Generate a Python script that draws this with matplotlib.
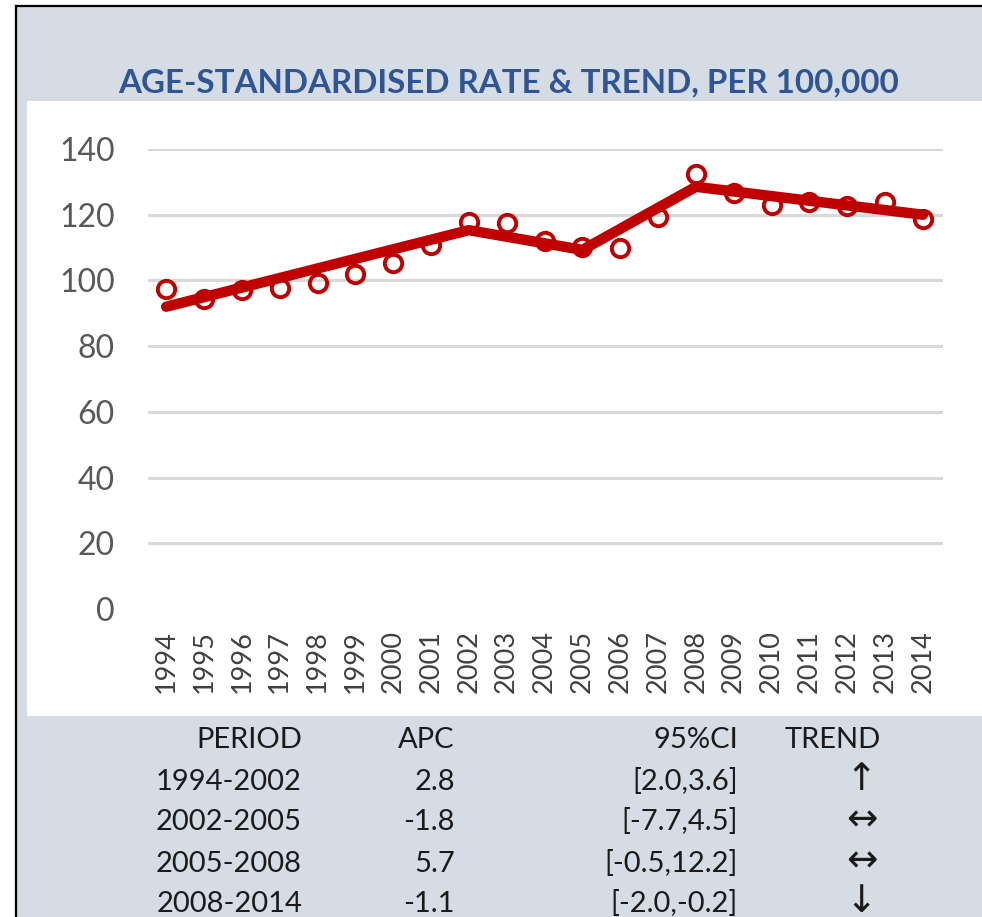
import matplotlib.pyplot as plt
from matplotlib.patches import Rectangle
from matplotlib.lines import Line2D

# observed age-standardised rates
years = list(range(1994, 2015))
rates = [97.4, 94.3, 97.1, 97.6, 99.2, 102.0, 105.4, 110.8, 117.9, 117.5, 112.0,
         110.3, 110.0, 119.3, 132.4, 126.5, 123.0, 124.0, 122.8, 124.0, 118.6]

# joinpoint trend
trend_years = [1994, 2002, 2005, 2008, 2014]
trend_vals = [92.0, 115.3, 109.3, 128.5, 120.0]

# table below the chart
periods = ['1994-2002', '2002-2005', '2005-2008', '2008-2014']
apc = ['2.8', '-1.8', '5.7', '-1.1']
ci = ['[2.0,3.6]', '[-7.7,4.5]', '[-0.5,12.2]', '[-2.0,-0.2]']
trend_sym = ['\u2191', '\u2194', '\u2194', '\u2193']

red = '#c00000'
W, H = 982, 917
fonts = ['Lato', 'DejaVu Sans']

fig = plt.figure(figsize=(9.82, 9.17), dpi=100)
fig.patch.set_facecolor('white')

def fx(px): return px / W
def fy(py): return 1 - py / H

# grey card, white plot panel and the black border
fig.patches.append(Rectangle((fx(16), 0), 1, fy(6), transform=fig.transFigure,
                             facecolor='#d6dce4', edgecolor='none', zorder=-3))
fig.patches.append(Rectangle((fx(27), fy(716)), 1, fy(101) - fy(716), transform=fig.transFigure,
                             facecolor='white', edgecolor='none', zorder=-2))
fig.lines.append(Line2D([fx(16), fx(16)], [0, fy(6)], transform=fig.transFigure,
                        color='black', lw=1.6))
fig.lines.append(Line2D([fx(16), 1], [fy(6), fy(6)], transform=fig.transFigure,
                        color='black', lw=1.6))

fig.text(fx(509), fy(92), 'AGE-STANDARDISED RATE & TREND, PER 100,000', ha='center',
         va='baseline', fontsize=23.9, fontweight='bold', color='#2f5597', family=fonts)

ax = fig.add_axes([fx(148), fy(609), fx(943) - fx(148), fy(149) - fy(609)])
ax.set_facecolor('none')
ax.set_xlim(1993.52, 2014.53)
ax.set_ylim(0, 140)
for v in range(20, 160, 20):
    ax.axhline(v, color='#d9d9d9', lw=2.2, zorder=1)
for s in ax.spines.values():
    s.set_visible(False)

ax.plot(trend_years, trend_vals, color=red, lw=7.5, solid_capstyle='round',
        solid_joinstyle='round', zorder=3, clip_on=False)
ax.plot(years, rates, linestyle='none', marker='o', markersize=12.5, markerfacecolor='none',
        markeredgecolor=red, markeredgewidth=2.8, zorder=4, clip_on=False)

ax.set_yticks(range(0, 160, 20))
ax.set_xticks(years)
ax.set_xticklabels([str(y) for y in years], rotation=90, family=fonts)
ax.tick_params(axis='y', length=0, pad=24, labelsize=23, labelcolor='#595959')
ax.tick_params(axis='x', length=0, pad=15, labelsize=19.5, labelcolor='#404040')
for lab in ax.get_yticklabels():
    lab.set_family(fonts)

# stats table
rows_y = [789.5, 830.5, 871.5, 912.5]
cols = [(302, 'PERIOD', periods), (455, 'APC', apc), (738, '95%CI', ci)]
tkw = dict(va='baseline', fontsize=21, color='#1a1a1a', family=fonts)
for x, head, vals in cols:
    fig.text(fx(x), fy(748), head, ha='right', **tkw)
    for yy, v in zip(rows_y, vals):
        fig.text(fx(x), fy(yy), v, ha='right', **tkw)
fig.text(fx(833), fy(748), 'TREND', ha='center', **tkw)
for yy, v in zip(rows_y, trend_sym):
    fig.text(fx(877), fy(yy), v, ha='right', va='baseline', fontsize=27,
             color='#1a1a1a', family='DejaVu Sans')

fig.savefig('out.png', dpi=100)
